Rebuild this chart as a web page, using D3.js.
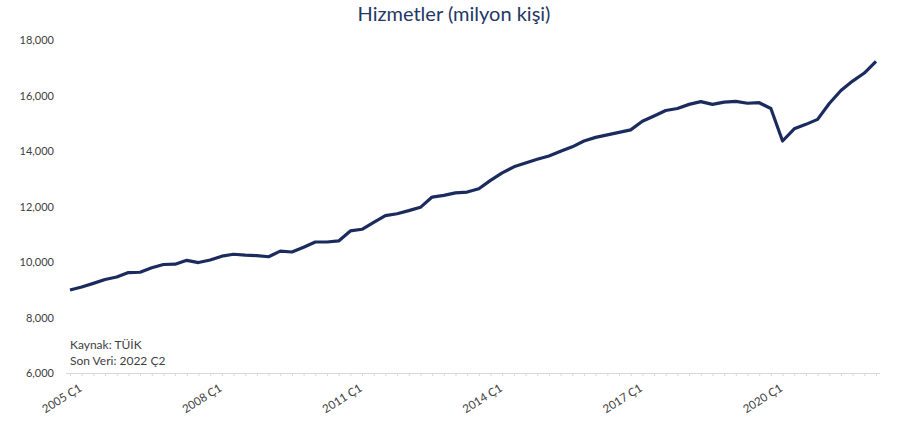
<!DOCTYPE html>
<html>
<head>
<meta charset="utf-8">
<script src="https://cdn.jsdelivr.net/npm/d3@7"></script>
<style>
    body { margin: 0; background: #fff; }
    text { font-family: Lato, "Open Sans", sans-serif; }
</style>
</head>
<body>
<script>
// quarterly services employment, thousands of people, 2005 Q1 .. 2022 Q2
const startYear = 2005;
const values = [
    8990, 9100, 9230, 9370, 9460, 9620, 9630, 9790, 9910, 9920, 10060, 9980,
    10070, 10210, 10280, 10250, 10230, 10190, 10390, 10360, 10530, 10720, 10720, 10760,
    11120, 11180, 11430, 11670, 11740, 11850, 11970, 12340, 12400, 12490, 12520, 12640,
    12940, 13210, 13430, 13570, 13700, 13820, 13990, 14150, 14360, 14490, 14580, 14670,
    14760, 15070, 15260, 15460, 15530, 15680, 15780, 15680, 15760, 15790, 15720, 15740,
    15530, 14360, 14800, 14960, 15140, 15710, 16180, 16520, 16810, 17230
];
const quarters = values.map((v, i) => (startYear + Math.floor(i / 4)) + " Ç" + (i % 4 + 1));
const yTicks = [6000, 8000, 10000, 12000, 14000, 16000, 18000];
const title = "Hizmetler (milyon kişi)";
const notes = ["Kaynak: TÜİK", "Son Veri: 2022 Ç2"];

const width = 913, height = 448;
const margin = {top: 40, right: 37, bottom: 75, left: 70};

const svg = d3.select("body").append("svg")
    .attr("width", width)
    .attr("height", height);

const x = d3.scalePoint()
    .domain(quarters)
    .range([margin.left, width - margin.right]);

const y = d3.scaleLinear()
    .domain([6000, 18000])
    .range([height - margin.bottom, margin.top]);

const fmt = d3.formatLocale({decimal: ",", thousands: ".", grouping: [3], currency: ["", ""]}).format(",.3f");

//title
svg.append("text")
    .attr("x", 454)
    .attr("y", 21)
    .attr("text-anchor", "middle")
    .attr("fill", "#1f3864")
    .attr("font-size", 20)
    .text(title);

//y axis labels only
const yAxis = svg.append("g")
    .attr("transform", "translate(" + (margin.left - 13) + ",0)")
    .call(d3.axisLeft(y).tickValues(yTicks).tickSize(0).tickFormat(d => fmt(d / 1000)));
yAxis.select(".domain").remove();
yAxis.selectAll("text")
    .attr("fill", "#404040")
    .attr("font-size", 11);

//x axis
const xAxis = svg.append("g")
    .attr("transform", "translate(0," + y(6000) + ")")
    .call(d3.axisBottom(x).tickSizeOuter(0).tickSize(3)
        .tickFormat((d, i) => i % 12 === 0 ? d : ""));
xAxis.select(".domain")
    .attr("stroke", "#d9d9d9")
    .attr("d", "M" + (margin.left - 4) + ",0.5H" + (width - margin.right + 4));
xAxis.selectAll(".tick line").attr("stroke", "#d9d9d9");
xAxis.selectAll("text")
    .attr("fill", "#404040")
    .attr("font-size", 11.5)
    .attr("text-anchor", "end")
    .attr("dx", "0.1em")
    .attr("dy", "1.3em")
    .attr("transform", "rotate(-32)");

//line
svg.append("path")
    .datum(values)
    .attr("fill", "none")
    .attr("stroke", "#1b2b5e")
    .attr("stroke-width", 3.2)
    .attr("stroke-linejoin", "round")
    .attr("d", d3.line()
        .x((d, i) => x(quarters[i]))
        .y(d => y(d)));

//source notes
svg.selectAll(".note")
    .data(notes).enter().append("text")
    .attr("class", "note")
    .attr("x", margin.left)
    .attr("y", (d, i) => 349 + i * 16)
    .attr("fill", "#404040")
    .attr("font-size", 12)
    .text(d => d);
</script>
</body>
</html>
